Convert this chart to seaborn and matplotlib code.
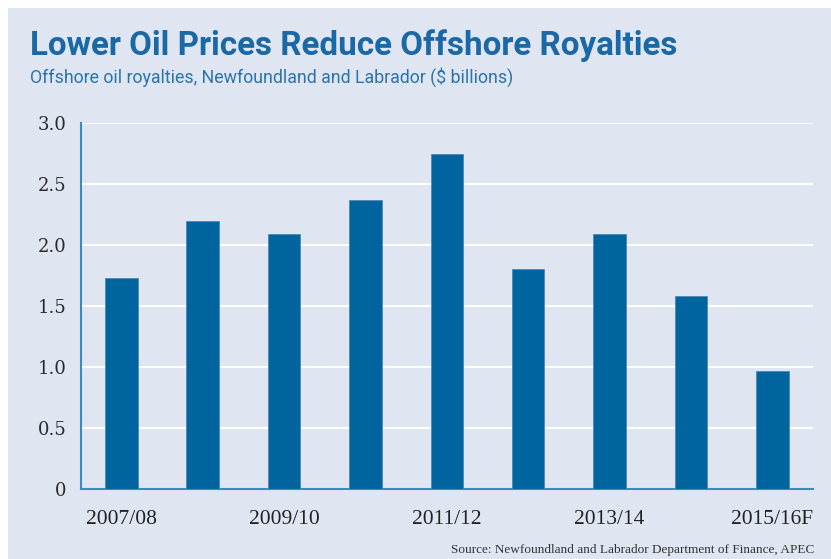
import matplotlib
matplotlib.use("Agg")
import matplotlib.pyplot as plt
import seaborn as sns
import pandas as pd
from matplotlib.patches import Rectangle

years = ["2007/08", "2008/09", "2009/10", "2010/11", "2011/12",
         "2012/13", "2013/14", "2014/15", "2015/16F"]
royalties = [1.73, 2.20, 2.09, 2.37, 2.75, 1.80, 2.09, 1.58, 0.97]
shown_labels = ["2007/08", "", "2009/10", "", "2011/12", "", "2013/14", "", "2015/16F"]
yticks = [0, 0.5, 1.0, 1.5, 2.0, 2.5, 3.0]
ytick_labels = ["0", "0.5", "1.0", "1.5", "2.0", "2.5", "3.0"]

df = pd.DataFrame({"year": years, "royalty": royalties})

narrow = "Roboto"

sns.set_theme(style="white")
plt.rcParams["font.family"] = ["DejaVu Sans"]

BG = "#dfe6f2"
BAR = "#00659f"
AXC = "#3a8cc0"
TITLE = "#1a68a6"

fig = plt.figure(figsize=(8.31, 5.59), dpi=100)
fig.patch.set_facecolor("white")
fig.add_artist(Rectangle((8 / 831, 0), 1, 1 - 8 / 559, transform=fig.transFigure,
                         facecolor=BG, edgecolor="none", zorder=0))

ax = fig.add_axes([80.7 / 831, 1 - 489 / 559, (813 - 80.7) / 831, (489 - 123) / 559])
ax.set_facecolor(BG)
ax.patch.set_alpha(0)

sns.barplot(data=df, x="year", y="royalty", color=BAR, width=0.4, saturation=1,
            edgecolor="#4f86b5", linewidth=0.6, ax=ax, zorder=3)

ax.set_xlim(-0.5, 8.5)
ax.set_ylim(0, 3.0)
ax.set_yticks(yticks)
ax.set_yticklabels(ytick_labels, fontfamily="DejaVu Serif", fontsize=13,
                   color="#2a2a2a")
ax.set_xticks(range(len(years)))
ax.set_xticklabels(shown_labels, fontfamily="Liberation Serif", fontsize=15.5,
                   color="#222222")
ax.set_xticks([i - 0.5 for i in range(len(years) + 1)], minor=True)
ax.tick_params(axis="x", which="major", length=0, pad=15)
ax.tick_params(axis="x", which="minor", length=6, width=1.5, color=AXC, direction="inout")
ax.tick_params(axis="y", which="major", length=6, width=1.5, color=AXC, direction="out", pad=4)

ax.yaxis.grid(True, color="white", linewidth=1.5, zorder=1)
ax.set_axisbelow(True)
for s in ["top", "right"]:
    ax.spines[s].set_visible(False)
for s in ["left", "bottom"]:
    ax.spines[s].set_color(AXC)
    ax.spines[s].set_linewidth(1.5)
ax.set_xlabel("")
ax.set_ylabel("")

fig.text(30 / 831, 1 - 55 / 559, "Lower Oil Prices Reduce Offshore Royalties",
         fontfamily=narrow, fontweight="bold", fontsize=23.9, color=TITLE,
         ha="left", va="baseline")
fig.text(30 / 831, 1 - 83 / 559, "Offshore oil royalties, Newfoundland and Labrador ($ billions)",
         fontfamily=narrow, fontsize=12.8, color="#2a74ad", ha="left", va="baseline")
fig.text(814 / 831, 1 - 553 / 559,
         "Source: Newfoundland and Labrador Department of Finance, APEC",
         fontfamily="Liberation Serif", fontsize=9.5, color="#333333",
         ha="right", va="baseline")

fig.savefig("out.png", dpi=100, facecolor="white")
